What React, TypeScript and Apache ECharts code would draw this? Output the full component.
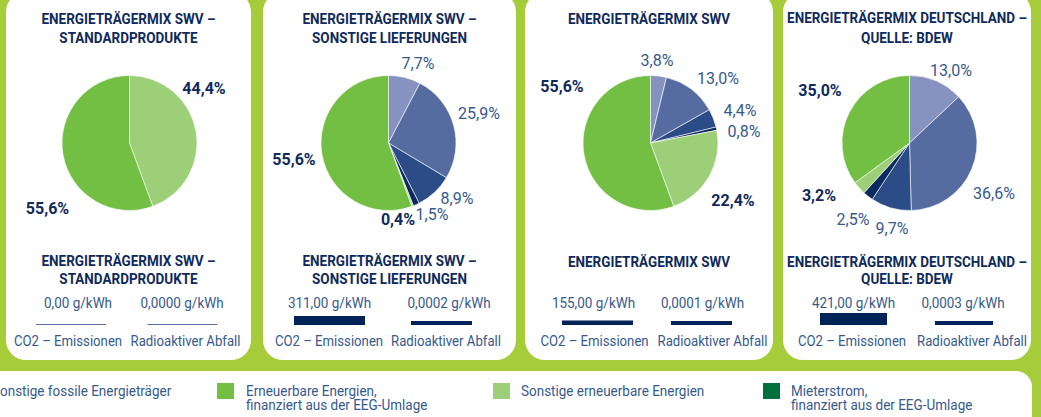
import React, { useEffect, useRef } from 'react';
import * as echarts from 'echarts';

// ---------- data ----------
const categories = [
  'Kernkraft',
  'Kohle',
  'Erdgas',
  'Sonstige fossile Energieträger',
  'Sonstige erneuerbare Energien',
  'Erneuerbare Energien, finanziert aus der EEG-Umlage',
];
const panelTitles = [
  ['ENERGIETRÄGERMIX SWV –', 'STANDARDPRODUKTE'],
  ['ENERGIETRÄGERMIX SWV –', 'SONSTIGE LIEFERUNGEN'],
  ['ENERGIETRÄGERMIX SWV'],
  ['ENERGIETRÄGERMIX DEUTSCHLAND –', 'QUELLE: BDEW'],
];
const mixStandard = [0, 0, 0, 0, 44.4, 55.6];
const mixSonstige = [7.7, 25.9, 8.9, 1.5, 0.4, 55.6];
const mixSwv = [3.8, 13.0, 4.4, 0.8, 22.4, 55.6];
const mixDeutschland = [13.0, 36.6, 9.7, 2.5, 3.2, 35.0];
const co2Values = [0, 311, 155, 421]; // g/kWh
const wasteValues = [0, 0.0002, 0.0001, 0.0003]; // g/kWh
const metricLabels = ['CO2 – Emissionen', 'Radioaktiver Abfall'];
const legendLabels = [
  'Sonstige fossile Energieträger',
  'Erneuerbare Energien,\nfinanziert aus der EEG-Umlage',
  'Sonstige erneuerbare Energien',
  'Mieterstrom,\nfinanziert aus der EEG-Umlage',
];

// ---------- styles / layout ----------
const FONT = 'Roboto, "Noto Sans", sans-serif';
const BG = '#a6cd39';
const NAVY = '#0f2a5c';
const TEXT_BLUE = '#365a8e';
const BAR_NAVY = '#002457';
const ZERO_LINE = '#5a6fa3';
const sliceColors = ['#8693c0', '#566b9f', '#2b4c87', '#0c2a60', '#9dcf78', '#72bf44'];
const boldCats = [false, false, false, false, true, true];
const legendColors = ['#0c2a60', '#72bf44', '#9dcf78', '#00703c'];

const mixes = [mixStandard, mixSonstige, mixSwv, mixDeutschland];
const panelBoxes = [
  [6, 245],
  [263, 253],
  [525, 248],
  [783, 248],
];
const pieCx = [129.5, 388.5, 650.5, 909.5];
const pieCy = 143;
const pieR = 67.5;
const labelPos: (number[] | null)[][] = [
  [null, null, null, null, [204, 88], [47.5, 208]],
  [[418, 63], [479, 113], [457, 198], [432, 214], [398, 219], [294, 159]],
  [[657, 60], [718, 78], [740, 110], [744, 131], [733, 200], [562, 86]],
  [[951, 70], [994, 193], [892, 228], [853, 219], [819, 195], [820, 90]],
];
const topTitleY = [[19.5, 38.5], [19.5, 38.5], [19.5], [18.5, 38]];
const bottomTitleY = [[261.5, 279], [261.5, 279], [262], [262, 279]];
const barCenters = [
  [71, 182.5],
  [329.5, 441.5],
  [597.5, 701.5],
  [853.5, 964],
];
const barWidths = [
  [70, 70],
  [71, 61],
  [71, 61],
  [67, 58],
];
const valueTextX = [
  [78, 182],
  [329.5, 449],
  [593.5, 702.5],
  [853.5, 963],
];
const metricTextX = [
  [68, 185.5],
  [329, 446],
  [594.5, 712.5],
  [852, 972],
];
const legendSquareX = [-37, 217, 493, 763];
const legendTextX = [-8, 246, 521, 791];

const co2AxisMax = 700;
const wasteAxisMax = 0.0015;

const fmtPct = (v: number) => v.toFixed(1).replace('.', ',') + '%';
const fmtCo2 = (v: number) => v.toFixed(2).replace('.', ',') + ' g/kWh';
const fmtWaste = (v: number) => v.toFixed(4).replace('.', ',') + ' g/kWh';

function buildOption() {
  const graphic: any[] = [];
  graphic.push({ type: 'rect', z: 0, shape: { x: 0, y: 0, width: 1041, height: 417 }, style: { fill: BG } });
  panelBoxes.forEach(([x, w]) => {
    graphic.push({ type: 'rect', z: 0, shape: { x, y: -8, width: w, height: 368, r: 20 }, style: { fill: '#ffffff' } });
  });
  graphic.push({ type: 'rect', z: 0, shape: { x: -30, y: 371, width: 1062, height: 70, r: 16 }, style: { fill: '#ffffff' } });

  const txt = (text: string, x: number, y: number, opts: any = {}) => ({
    type: 'text',
    z: 10,
    x,
    y,
    scaleX: opts.scaleX || 1,
    style: {
      text,
      fill: opts.fill || TEXT_BLUE,
      fontFamily: FONT,
      fontSize: opts.fontSize || 13,
      fontWeight: opts.fontWeight || 'normal',
      align: opts.align || 'center',
      verticalAlign: opts.verticalAlign || 'middle',
      lineHeight: opts.lineHeight,
    },
  });

  panelTitles.forEach((lines, p) => {
    const cx = panelBoxes[p][0] + panelBoxes[p][1] / 2;
    lines.forEach((line, i) => {
      graphic.push(txt(line, cx, topTitleY[p][i], { fill: NAVY, fontSize: 15.5, scaleX: 0.87, fontWeight: 'bold' }));
      graphic.push(txt(line, cx, bottomTitleY[p][i], { fill: NAVY, fontSize: 15.5, scaleX: 0.87, fontWeight: 'bold' }));
    });
    graphic.push(txt(fmtCo2(co2Values[p]), valueTextX[p][0], 303.5, { fontSize: 15.5, scaleX: 0.87 }));
    graphic.push(txt(fmtWaste(wasteValues[p]), valueTextX[p][1], 303.5, { fontSize: 15.5, scaleX: 0.87 }));
    metricLabels.forEach((m, i) => {
      graphic.push(txt(m, metricTextX[p][i], 341, { fontSize: 15.5, scaleX: 0.85 }));
    });
  });

  legendLabels.forEach((lab, i) => {
    graphic.push({ type: 'rect', z: 10, shape: { x: legendSquareX[i], y: 383, width: 17, height: 16 }, style: { fill: legendColors[i] } });
    graphic.push(txt(lab, legendTextX[i], 383.5, { fontSize: 14.5, scaleX: 0.93, align: 'left', verticalAlign: 'top', lineHeight: 14 }));
  });

  const series: any[] = [];
  const grids: any[] = [];
  const xAxes: any[] = [];
  const yAxes: any[] = [];

  mixes.forEach((mix, p) => {
    const idxMap: number[] = [];
    const data: any[] = [];
    mix.forEach((v, c) => {
      if (v <= 0) return;
      idxMap.push(c);
      data.push({
        name: categories[c],
        value: v,
        itemStyle: { color: sliceColors[c] },
        label: { color: boldCats[c] ? NAVY : TEXT_BLUE, fontWeight: boldCats[c] ? 'bold' : 'normal' },
      });
    });
    series.push({
      type: 'pie',
      silent: true,
      center: [pieCx[p], pieCy],
      radius: pieR,
      startAngle: 90,
      clockwise: true,
      avoidLabelOverlap: false,
      itemStyle: { borderColor: '#ffffff', borderWidth: 0.6 },
      label: {
        show: true,
        position: 'outside',
        fontFamily: FONT,
        fontSize: 16,
        formatter: (prm: any) => fmtPct(prm.value),
      },
      labelLine: { show: false },
      labelLayout: (prm: any) => {
        const pos = labelPos[p][idxMap[prm.dataIndex]] as number[];
        return { x: pos[0], y: pos[1], align: 'center', verticalAlign: 'middle' };
      },
      data,
    });

    [co2Values[p], wasteValues[p]].forEach((v, m) => {
      const g = grids.length;
      grids.push({
        left: barCenters[p][m] - barWidths[p][m] / 2,
        width: barWidths[p][m],
        top: 305,
        height: 20,
      });
      xAxes.push({ gridIndex: g, type: 'category', data: [metricLabels[m]], show: false });
      yAxes.push({ gridIndex: g, type: 'value', min: 0, max: m === 0 ? co2AxisMax : wasteAxisMax, show: false });
      series.push({
        type: 'bar',
        silent: true,
        xAxisIndex: g,
        yAxisIndex: g,
        barWidth: '100%',
        barMinHeight: v === 0 ? 1 : m === 1 ? 4 : 0,
        data: [{ value: v, itemStyle: { color: v === 0 ? ZERO_LINE : BAR_NAVY } }],
      });
    });
  });

  return {
    animation: false,
    graphic: { elements: graphic },
    grid: grids,
    xAxis: xAxes,
    yAxis: yAxes,
    series,
  };
}

export default function App() {
  const ref = useRef<HTMLDivElement>(null);
  useEffect(() => {
    if (!ref.current) return;
    const chart = echarts.init(ref.current, undefined, { renderer: 'svg' });
    chart.setOption(buildOption() as any);
    return () => chart.dispose();
  }, []);
  return (
    <div
      ref={ref}
      style={{ position: 'fixed', left: 0, top: 0, width: 1041, height: 417, background: BG }}
    />
  );
}
